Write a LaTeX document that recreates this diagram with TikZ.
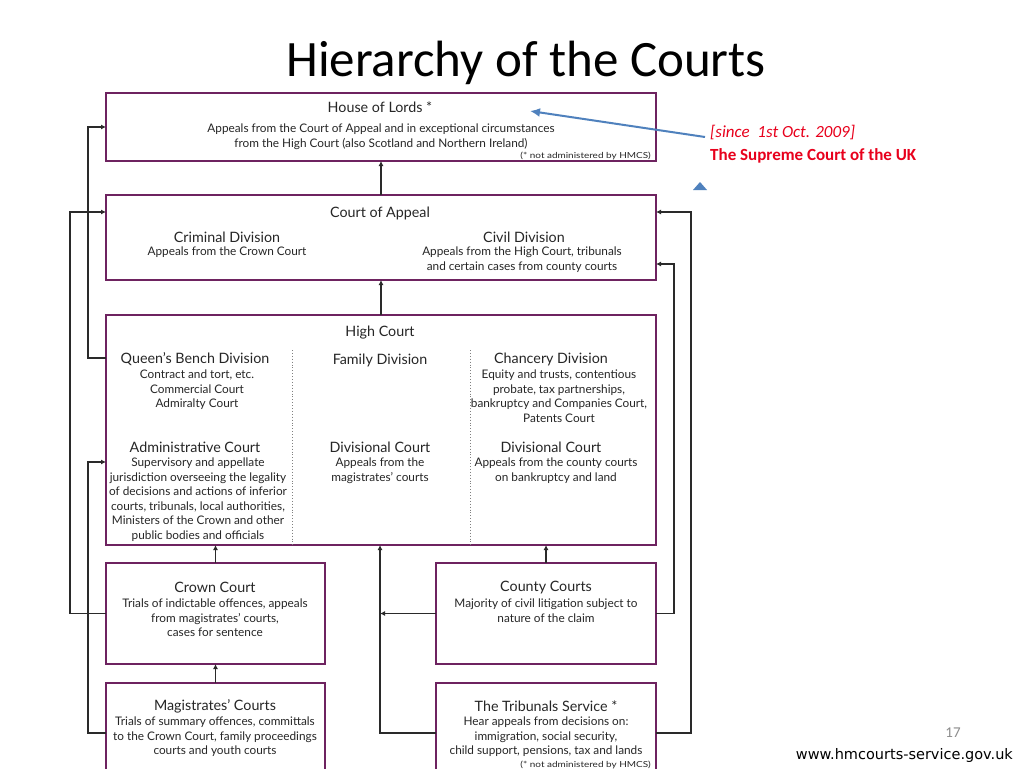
\documentclass[tikz,border=0pt]{standalone}
\usepackage{fontspec}
\setmainfont{Lato}
\newfontfamily\calibri{Carlito}
\newfontfamily\verd{DejaVu Sans}
\usetikzlibrary{arrows.meta}
\definecolor{boxc}{HTML}{6E2360}
\definecolor{linec}{HTML}{2A2A2A}
\definecolor{txtc}{HTML}{262626}
\definecolor{bluec}{HTML}{4F81BD}
\definecolor{redc}{HTML}{E8001C}
\definecolor{grayc}{HTML}{8C8C8C}
\newcommand{\notetext}{\scalebox{1.2}[1]{(* not administered by HMCS)}}
\begin{document}
\begin{tikzpicture}[x=1pt,y=-1pt,
  box/.style={draw=boxc, line width=1.8pt, inner sep=0pt, outer sep=0pt, anchor=north west},
  ttl/.style={font=\fontsize{14.3}{16}\selectfont, inner sep=0pt, text=txtc, yshift=-1.5pt},
  body/.style={font=\fontsize{11.8}{14.5}\selectfont, align=center, inner sep=0pt, anchor=north, text=txtc, yshift=-2pt},
  note/.style={inner sep=0pt, anchor=east, font=\fontsize{8.3}{9}\selectfont, text=txtc},
  arr/.style={draw=linec, line width=1.4pt, -{Latex[length=5pt,width=5pt]}},
  divider/.style={draw=gray, dotted, line width=0.9pt}]
\path[use as bounding box] (0,0) rectangle (1024,768);
\clip (0,0) rectangle (1024,768);
\fill[white] (0,0) rectangle (1024,768);

% title
\node[font=\calibri\fontsize{51}{56}\selectfont, inner sep=0pt] (title) at (526,63) {Hierarchy of the Courts};

% boxes
\node[box, minimum width=550pt, minimum height=68pt] (hol) at (106,93) {};
\node[box, minimum width=550pt, minimum height=85pt] (coa) at (106,195) {};
\node[box, minimum width=550pt, minimum height=230pt] (hc) at (106,315) {};
\node[box, minimum width=219pt, minimum height=101pt] (cc) at (106,563) {};
\node[box, minimum width=220pt, minimum height=101pt] (cty) at (436,563) {};
\node[box, minimum width=219pt, minimum height=101pt] (mag) at (106,683) {};
\node[box, minimum width=220pt, minimum height=101pt] (trib) at (436,683) {};

% House of Lords
\node[ttl] (holT) at (380,106) {House of Lords *};
\node[body] (holB) at (381,122) {Appeals from the Court of Appeal and in exceptional circumstances\\from the High Court (also Scotland and Northern Ireland)};
\node[note] (holN) at (651,155.5) {\notetext};

% Court of Appeal
\node[ttl] (coaT) at (380,212) {Court of Appeal};
\node[ttl] (crimT) at (227,236) {Criminal Division};
\node[body] (crimB) at (227,245) {Appeals from the Crown Court};
\node[ttl] (civT) at (524,236) {Civil Division};
\node[body] (civB) at (522,245) {Appeals from the High Court, tribunals\\and certain cases from county courts};

% High Court
\node[ttl] (hcT) at (380,331) {High Court};
\draw[divider] (292,350) -- (292,545);
\draw[divider] (470,350) -- (470,545);
\node[ttl] (qbT) at (195,358) {Queen's Bench Division};
\node[body] (qbB) at (197,368) {Contract and tort, etc.\\Commercial Court\\Admiralty Court};
\node[ttl] (famT) at (380,359) {Family Division};
\node[ttl] (chT) at (551,358) {Chancery Division};
\node[body] (chB) at (559,368) {Equity and trusts, contentious\\probate, tax partnerships,\\bankruptcy and Companies Court,\\Patents Court};
\node[ttl] (admT) at (195,446) {Administrative Court};
\node[body] (admB) at (198,456) {Supervisory and appellate\\jurisdiction overseeing the legality\\of decisions and actions of inferior\\courts, tribunals, local authorities,\\Ministers of the Crown and other\\public bodies and officials};
\node[ttl] (dv1T) at (380,446) {Divisional Court};
\node[body] (dv1B) at (380,456) {Appeals from the\\magistrates' courts};
\node[ttl] (dv2T) at (551,446) {Divisional Court};
\node[body] (dv2B) at (556,456) {Appeals from the county courts\\on bankruptcy and land};

% Crown Court
\node[ttl] (ccT) at (215,586) {Crown Court};
\node[body] (ccB) at (215,597) {Trials of indictable offences, appeals\\from magistrates' courts,\\cases for sentence};
% County Courts
\node[ttl] (ctyT) at (546,586) {County Courts};
\node[body] (ctyB) at (546,597) {Majority of civil litigation subject to\\nature of the claim};
% Magistrates
\node[ttl] (magT) at (215,705) {Magistrates' Courts};
\node[body] (magB) at (215,715) {Trials of summary offences, committals\\to the Crown Court, family proceedings\\courts and youth courts};
% Tribunals
\node[ttl] (tribT) at (546,705) {The Tribunals Service *};
\node[body] (tribB) at (546,715) {Hear appeals from decisions on:\\immigration, social security,\\child support, pensions, tax and lands};
\node[note] (tribN) at (651,765) {\notetext};

% junction coordinates
\coordinate (lA) at (88,0);
\coordinate (lB) at (70,0);
\coordinate (rE) at (674,0);
\coordinate (rD) at (691,0);
\coordinate (mid) at (380,733);

% vertical arrows
\draw[arr] (coa.north) -- (hol.south);
\draw[arr] (hc.north) -- (coa.south);
\draw[arr] (cc.north) -- (hc.south -| cc.north);
\draw[arr] (cty.north) -- (hc.south -| cty.north);
\draw[arr] (mag.north) -- (cc.south);
\draw[arr] (trib.west |- mid) -- (mid) -- (hc.south -| mid);
\draw[arr] (cty.west) -- (cty.west -| mid);

% left side
\draw[arr] (hc.west |- 0,358) -| (lA |- hol.west) -- (hol.west);
\draw[arr] (cc.west) -| (lB |- 0,212) -- (coa.west |- 0,212);
\draw[arr] (mag.west |- mid) -| (lA |- 0,462) -- (hc.west |- 0,462);
% right side
\draw[arr] (trib.east |- mid) -| (rD |- 0,212) -- (coa.east |- 0,212);
\draw[arr] (cty.east) -| (rE |- 0,264) -- (coa.east |- 0,264);

% red annotation
\node[anchor=west, inner sep=0pt, font=\calibri\itshape\fontsize{17}{19}\selectfont, text=redc] (since) at (710,133) {[since\ \ 1st Oct. 2009]};
\node[anchor=west, inner sep=0pt, font=\calibri\bfseries\fontsize{17}{19}\selectfont, text=redc] (sup) at (710,156) {The Supreme Court of the UK};
\coordinate (bs) at (705,137);
\coordinate (be) at (530,111);
\draw[draw=bluec, line width=2pt, -{Latex[length=10pt,width=9pt]}] (bs) -- (be);
\fill[bluec] (693,190) -- (707,190) -- (700,182) -- cycle;

% footer
\node[inner sep=0pt, font=\calibri\fontsize{15}{17}\selectfont, text=grayc] (pg) at (953,733) {17};
\node[anchor=east, inner sep=0pt, font=\verd\fontsize{14.5}{16}\selectfont] (url) at (1013,755) {www.hmcourts-service.gov.uk};
\end{tikzpicture}
\end{document}
